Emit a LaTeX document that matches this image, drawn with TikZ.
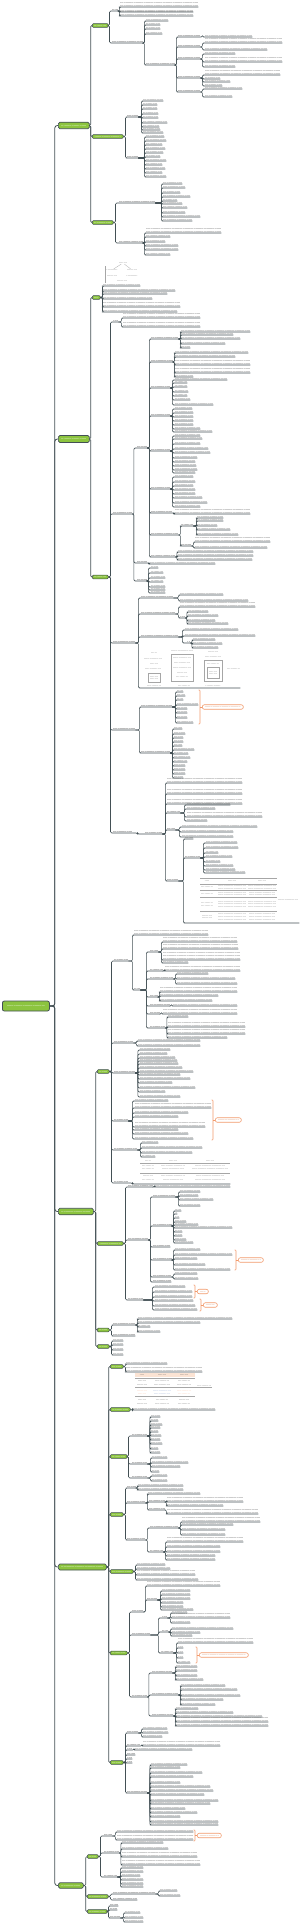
\documentclass[tikz,border=0pt]{standalone}
\usetikzlibrary{positioning}
\definecolor{linec}{HTML}{435055}
\definecolor{topicg}{HTML}{8CC43F}
\definecolor{callo}{HTML}{F29A6C}
\definecolor{paleor}{HTML}{FBE3D3}
\definecolor{cellbl}{HTML}{4A6FB5}
% dotted rows stand in for the labels, which are too small to read
\newcommand\dl[2]{\hbox to \dimexpr#2pt-#1pt\relax{\vrule height1.9pt width0pt\xleaders\hbox to 1.1pt{\hss\textbullet\hss}\hfil}}
\newcommand\ph[3]{\vbox{\offinterlineskip\dl{#1}{#2}\ifnum#3>1 \vskip1pt\dl{#1}{#2}\fi\ifnum#3>2 \vskip1pt\dl{#1}{#2}\fi}}
\newcommand\arm[3][2]{\draw[link] (#2) -- ++(#1,0) |- (#3.south west) -- (#3.south east);}
\newcommand\tarm[3][1]{\draw[link] (#2) -- ++(#1,0) |- (#3.west);}
\begin{document}
\begin{tikzpicture}[x=1pt, y=-1pt,
  link/.style={draw=linec, line width=.6pt, rounded corners=1.2pt},
  trunk/.style={draw=linec, line width=.8pt, rounded corners=2.5pt},
  leaf/.style={anchor=south west, inner xsep=0pt, inner ysep=.4pt, text=black!68, font=\fontsize{2.6}{3}\selectfont},
  lbl/.style={leaf, text=black!90},
  topic/.style={draw=linec, fill=topicg, rounded corners=1pt, line width=.5pt, inner sep=0pt, anchor=west, text=white, font=\fontsize{2.6}{3}\selectfont},
  callout/.style={draw=callo, fill=white, rounded corners=2pt, line width=.6pt, inner sep=0pt, anchor=west, minimum height=4.5, text=callo!85!black, font=\fontsize{2.4}{2.8}\selectfont},
  bracket/.style={draw=callo, line width=.6pt, rounded corners=.8pt},
  grid/.style={draw=black!35, line width=.3pt},
  cell/.style={inner sep=0pt, text=black!60, font=\fontsize{2.2}{2.6}\selectfont}
]
\useasboundingbox (0,0) rectangle (300,1924);

% root and main branches
\node[topic, rounded corners=2pt, line width=.8pt, minimum width=47, minimum height=10] (root) at (2,1006) {\ph{0}{38}{1}};
\node[topic, rounded corners=1.5pt, line width=.7pt, minimum width=31, minimum height=6.5] (t1) at (58,125.5) {\ph{0}{25}{1}};
\node[topic, rounded corners=1.5pt, line width=.7pt, minimum width=31, minimum height=7] (t2) at (58,439) {\ph{0}{25}{1}};
\node[topic, rounded corners=1.5pt, line width=.7pt, minimum width=35, minimum height=6.5] (t3) at (58,1211.5) {\ph{0}{29}{1}};
\node[topic, rounded corners=1.5pt, line width=.7pt, minimum width=48, minimum height=6] (t4) at (58,1567) {\ph{0}{42}{1}};
\node[topic, rounded corners=1.5pt, line width=.7pt, minimum width=25, minimum height=5.5] (t5) at (58,1885.5) {\ph{0}{19}{1}};
\foreach \tn in {t1,t2,t3,t4,t5} {\draw[trunk] (root.east) -- ++(5,0) |- (\tn.west);}

% ---------- branch 1 ----------
\node[topic, minimum width=16, minimum height=3.6] (s1a) at (92,25.5) {\ph{0}{12}{1}};
\node[topic, minimum width=31, minimum height=3.6] (s1b) at (92,136.5) {\ph{0}{26}{1}};
\node[topic, minimum width=21, minimum height=3.6] (s1c) at (92,222.5) {\ph{0}{17}{1}};
\foreach \tn in {s1a,s1b,s1c} {\tarm{t1.east}{\tn}}

\node[lbl] (a11) at (112,11) {\ph{112}{118}{1}};
\node[lbl] (a43) at (112,43) {\ph{112}{143}{1}};
\arm[1]{s1a.east}{a11} \arm[1]{s1a.east}{a43}
\foreach \yy/\xe/\nl in {7/198/2,12/193/1,16/193/2}{
  \node[leaf] (a11-\yy) at (120,\yy) {\ph{120}{\xe}{\nl}};
  \arm[1]{a11.south east}{a11-\yy}}
\foreach \yy/\xe in {21/168,25/160,29/160,34/162}{
  \node[leaf] (a43-\yy) at (146,\yy) {\ph{146}{\xe}{1}};
  \arm[1]{a43.south east}{a43-\yy}}
\node[lbl] (a65) at (146,65) {\ph{146}{175}{1}};
\arm[1]{a43.south east}{a65}
\foreach \yy in {37,47,59,78,92}{
  \node[lbl] (a65-\yy) at (178,\yy) {\ph{178}{200}{1}};
  \arm[1]{a65.south east}{a65-\yy}}
\foreach \pp/\yy/\xe/\nl in {37/37/252/1,47/43/282/2,47/50/267/1,59/54/235/1,59/62/282/2,59/67/235/1,
    78/75/280/2,78/79/220/1,78/82/230/1,78/86/222/1,92/89/242/1,92/97/232/1}{
  \node[leaf] (b\yy) at (205,\yy) {\ph{205}{\xe}{\nl}};
  \arm{a65-\pp.south east}{b\yy}}

\node[lbl] (c117) at (127,117) {\ph{127}{138}{1}};
\node[lbl] (c158) at (127,158) {\ph{127}{138}{1}};
\arm{s1b.east}{c117} \arm{s1b.east}{c158}
\foreach \yy/\xe in {101/163,105/157,109/157,114/158,118/158,123/167,127/159,130/160,133/163}{
  \node[leaf] (c117-\yy) at (143,\yy) {\ph{143}{\xe}{1}};
  \arm[3]{c117.south east}{c117-\yy}}
\foreach \yy/\xe in {137/164,141/166,145/162,149/165,153/163,157/160,161/166,165/162,169/165,173/162,177/166}{
  \node[leaf] (c158-\yy) at (146,\yy) {\ph{146}{\xe}{1}};
  \arm[6]{c158.south east}{c158-\yy}}

\node[lbl] (c203) at (119,203) {\ph{119}{155}{1}};
\node[lbl] (c243) at (119,243) {\ph{119}{143}{1}};
\arm{s1c.east}{c203} \arm{s1c.east}{c243}
\foreach \yy/\xe in {184/182,188/185,193/180,197/190,201/177,204/182,208/187,213/185,217/200,221/192}{
  \node[leaf] (c203-\yy) at (163,\yy) {\ph{163}{\xe}{1}};
  \arm[6]{c203.south east}{c203-\yy}}
\foreach \yy/\xe/\nl in {233/221/2,237/170/1,242/165/1,246/178/1,250/178/1,255/170/1}{
  \node[leaf] (c243-\yy) at (146,\yy) {\ph{146}{\xe}{\nl}};
  \arm[1]{c243.south east}{c243-\yy}}

% ---------- branch 2 ----------
\node[topic, minimum width=8, minimum height=3.6] (s2a) at (92,297.5) {\ph{0}{5}{1}};
\node[topic, minimum width=16, minimum height=3.6] (s2b) at (92,577) {\ph{0}{12}{1}};
\tarm{t2.east}{s2a} \tarm{t2.east}{s2b}
\foreach \yy/\xe/\nl in {286/140/1,291/175/1,294/167/1,299/152/1,307/180/2,312/177/1}{
  \node[leaf] (d\yy) at (103,\yy) {\ph{103}{\xe}{\nl}};
  \arm{s2a.east}{d\yy}}
% little tree picture over the first leaf
\draw[grid] (105.5,266) -- (105.5,283);
\node[cell] (tr0) at (123,263) {\ph{0}{8}{1}};
\node[cell] (tr1) at (112,270) {\ph{0}{11}{1}};
\node[cell] (tr2) at (132,270) {\ph{0}{10}{1}};
\node[cell] (tr3) at (112,275.5) {\ph{0}{10}{1}};
\node[cell] (tr4) at (132,275.5) {\ph{0}{11}{1}};
\node[cell] (tr5) at (122,280.5) {\ph{0}{10}{1}};
\draw[grid] (tr0) -- (tr1); \draw[grid] (tr0) -- (tr2);

\node[lbl] (e322) at (113,322) {\ph{113}{118}{1}};
\node[lbl] (e514) at (113,514) {\ph{113}{132}{1}};
\node[lbl] (e643) at (113,643) {\ph{113}{135}{1}};
\node[lbl] (e730) at (113,730) {\ph{113}{135}{1}};
\node[lbl] (e833) at (113,833) {\ph{113}{132}{1}};
\foreach \tn in {e322,e514,e643,e730,e833} {\arm{s2b.east}{\tn}}
\foreach \yy in {318,327}{
  \node[leaf] (e322-\yy) at (123,\yy) {\ph{123}{200}{2}};
  \arm[3]{e322.south east}{e322-\yy}}

\node[lbl] (f448) at (137,448) {\ph{137}{147}{1}};
\node[lbl] (f563) at (137,563) {\ph{137}{147}{1}};
\node[lbl] (f581) at (137,581) {\ph{137}{147}{1}};
\foreach \tn in {f448,f563,f581} {\arm[1.5]{e514.south east}{\tn}}
\foreach \yy/\xe in {339/178,362/173,388/170,416/170,451/170,489/170,513/172,535/178,557/175}{
  \node[lbl] (g\yy) at (151,\yy) {\ph{151}{\xe}{1}};
  \arm{f448.south east}{g\yy}}
\foreach \pp/\lx/\dd/\yy/\xe/\nl in {339/181/2/332/250/1,339/181/2/335/233/1,339/181/2/339/240/1,339/181/2/344/225/1,339/181/2/348/190/1,
    362/175/1/353/248/1,362/175/1/357/235/1,362/175/1/365/250/2,362/175/1/373/250/2,362/175/1/377/193/1,
    388/175/2/380/227/1,388/175/2/383/187/1,388/175/2/387/187/1,388/175/2/392/188/1,388/175/2/396/187/1,388/175/2/400/190/1,388/175/2/405/213/1,
    416/175/2/409/192/1,416/175/2/413/193/1,416/175/2/417/193/1,416/175/2/421/193/1,416/175/2/425/193/1,416/175/2/429/200/1,416/175/2/432/212/1,
    451/175/2/436/200/1,451/175/2/439/202/1,451/175/2/444/200/1,451/175/2/449/208/1,451/175/2/453/210/1,451/175/2/458/197/1,451/175/2/462/195/1,451/175/2/466/196/1,451/175/2/470/197/1,451/175/2/473/195/1,
    489/175/2/477/193/1,489/175/2/482/195/1,489/175/2/486/193/1,489/175/2/490/195/1,489/175/2/494/195/1,489/175/2/498/202/1,489/175/2/503/207/1,489/175/2/507/200/1,
    513/175/1.5/514/250/2,557/178/1.5/552/253/1,557/178/1.5/556/253/1,557/178/1.5/560/252/1}{
  \node[leaf] (h\yy) at (\lx,\yy) {\ph{\lx}{\xe}{\nl}};
  \arm[\dd]{g\pp.south east}{h\yy}}
\node[lbl] (k526) at (181,526) {\ph{181}{193}{1}};
\node[lbl] (k546) at (181,546) {\ph{181}{191}{1}};
\arm{g535.south east}{k526} \arm{g535.south east}{k546}
\foreach \yy/\xe in {518/223,521/223,526/217,530/230,535/238}{
  \node[leaf] (m\yy) at (197,\yy) {\ph{197}{\xe}{1}};
  \arm[3]{k526.south east}{m\yy}}
\foreach \yy/\xe/\nl in {542/270/2,548/267/1}{
  \node[leaf] (m\yy) at (195,\yy) {\ph{195}{\xe}{\nl}};
  \arm{k546.south east}{m\yy}}
\node[leaf] (f563-564) at (150,564) {\ph{150}{215}{1}};
\arm[1.5]{f563.south east}{f563-564}
\foreach \yy/\xe in {568/158,573/163,578/165,582/163,587/165,590/165,593/165}{
  \node[leaf] (f581-\yy) at (151,\yy) {\ph{151}{\xe}{1}};
  \arm[1]{f581.south east}{f581-\yy}}

\node[lbl] (n598) at (141,598) {\ph{141}{173}{1}};
\node[lbl] (n614) at (141,614) {\ph{141}{175}{1}};
\node[lbl] (n637) at (141,637) {\ph{141}{178}{1}};
\node[leaf, minimum width=99, minimum height=37] (img2) at (141,688) {};
\foreach \tn in {n598,n614,n637,img2} {\arm[3]{e643.south east}{\tn}}
\foreach \yy/\xe in {595/223,601/248}{
  \node[leaf] (n598-\yy) at (180,\yy) {\ph{180}{\xe}{1}};
  \arm[5]{n598.south east}{n598-\yy}}
\node[leaf] (n614-607) at (180,607) {\ph{180}{255}{2}};
\node[lbl] (p618) at (180,618) {\ph{180}{185}{1}};
\arm[3]{n614.south east}{n614-607} \arm[3]{n614.south east}{p618}
\foreach \yy/\xe in {612/208,616/218,621/215,624/228}{
  \node[leaf] (p618-\yy) at (188,\yy) {\ph{188}{\xe}{1}};
  \arm[1.5]{p618.south east}{p618-\yy}}
\node[leaf] (n637-630) at (185,630) {\ph{185}{238}{1}};
\node[leaf] (n637-636) at (185,636) {\ph{185}{255}{1}};
\node[lbl] (p643) at (187,643) {\ph{187}{190}{1}};
\foreach \tn in {n637-630,n637-636,p643} {\arm[4]{n637.south east}{\tn}}
\foreach \yy/\xe in {640/215,644/222,648/218}{
  \node[leaf] (p643-\yy) at (193,\yy) {\ph{193}{\xe}{1}};
  \arm[1.5]{p643.south east}{p643-\yy}}
% three small pictures standing on the line of img2
\node[cell] (ia0) at (154,653) {\ph{0}{6}{1}};
\node[cell] (ia1) at (153,659) {\ph{0}{18}{1}};
\node[cell] (ia2) at (154,664) {\ph{0}{8}{1}};
\node[cell] (ia3) at (153,669) {\ph{0}{16}{1}};
\draw[grid] (148,673) rectangle (160,682);
\node[cell] (ia4) at (154,677.5) {\ph{0}{8}{2}};
\node[cell] (ia5) at (154,685.5) {\ph{0}{14}{1}};
\node[cell] (ib0) at (182,651) {\ph{0}{22}{1}};
\draw[grid] (171,654) rectangle (193,681);
\foreach \yy/\ww in {658/18,663/16,668/18,673/10,677/12} {\node[cell] (ib\yy) at (182,\yy) {\ph{0}{\ww}{1}};}
\node[cell] (ib9) at (184,685.5) {\ph{0}{12}{1}};
\node[cell] (ic0) at (213,652) {\ph{0}{10}{1}};
\node[cell] (ic1) at (213,656.5) {\ph{0}{16}{1}};
\draw[grid] (204,660) rectangle (222,681);
\draw[grid] (207,667) rectangle (219,678);
\node[cell] (ic2) at (213,663.5) {\ph{0}{12}{1}};
\node[cell] (ic3) at (213,672.5) {\ph{0}{8}{2}};
\node[cell] (ic9) at (213,685.5) {\ph{0}{15}{1}};
\node[cell] (id0) at (233.5,669) {\ph{0}{13}{1}};

\node[lbl] (q707) at (141,707) {\ph{141}{172}{1}};
\node[lbl] (q753) at (141,753) {\ph{141}{170}{1}};
\arm[4]{e730.south east}{q707} \arm[4]{e730.south east}{q753}
\foreach \yy/\xe in {692/183,696/185,700/183,705/198,709/187,713/187,718/187,723/193}{
  \node[leaf] (q707-\yy) at (177,\yy) {\ph{177}{\xe}{1}};
  \arm[3]{q707.south east}{q707-\yy}}
\foreach \yy/\xe in {729/182,734/185,738/183,742/183,746/182,750/194,754/188,758/190,762/187,766/185,770/185,774/185,778/183}{
  \node[leaf] (q753-\yy) at (174,\yy) {\ph{174}{\xe}{1}};
  \arm{q753.south east}{q753-\yy}}

\node[lbl] (r834) at (145,834) {\ph{145}{162}{1}};
\arm[5]{e833.south east}{r834}
\foreach \yy in {783,794,804}{
  \node[leaf] (r834-\yy) at (167,\yy) {\ph{167}{242}{2}};
  \arm[3]{r834.south east}{r834-\yy}}
\node[lbl] (s813) at (167,813) {\ph{167}{180}{1}};
\node[lbl] (s830) at (167,830) {\ph{167}{175}{1}};
\node[lbl] (s881) at (167,881) {\ph{167}{178}{1}};
\foreach \tn in {s813,s830,s881} {\arm[3]{r834.south east}{\tn}}
\foreach \yy/\xe/\nl in {805/230/1,809/215/1,817/262/2,821/207/1}{
  \node[leaf] (s813-\yy) at (187,\yy) {\ph{187}{\xe}{\nl}};
  \arm[4]{s813.south east}{s813-\yy}}
\foreach \yy/\xe in {827/257,832/233,837/233}{
  \node[leaf] (s830-\yy) at (182,\yy) {\ph{182}{\xe}{1}};
  \arm[4]{s830.south east}{s830-\yy}}
\node[leaf] (u839) at (185,839) {\ph{185}{193}{1}};
\node[lbl] (u858) at (185,858) {\ph{185}{200}{1}};
\node[leaf, minimum width=114, minimum height=44] (tab1) at (185,923) {};
\foreach \tn in {u839,u858,tab1} {\arm[5]{s881.south east}{\tn}}
\foreach \yy/\xe in {843/237,848/238,853/218,857/232,862/220,866/233,870/235,873/245}{
  \node[leaf] (u858-\yy) at (206,\yy) {\ph{206}{\xe}{1}};
  \arm[3]{u858.south east}{u858-\yy}}
% table standing on tab1
\foreach \yy in {878,884,890,897,911} {\draw[grid] (200,\yy) -- (277,\yy);}
\foreach \nm/\cx/\cy/\ww/\nl in {h1/207/881/5/1,h2/232/881/8/1,h3/262/881/8/1,
    a1/207/887/12/1,a2/232/887/28/2,a3/262/887/28/2,
    b1/207/893.5/12/1,b2/232/893.5/28/2,b3/262/893.5/26/2,
    c1/207/904/12/2,c2/232/904/28/3,c3/262/904/28/3,
    d1/207/916.5/10/2,d2/232/916.5/28/3,d3/262/916.5/26/3,e4/288/900/20/1}
  {\node[cell] (ta\nm) at (\cx,\cy) {\ph{0}{\ww}{\nl}};}

% ---------- branch 3 ----------
\node[topic, minimum width=12, minimum height=3.6] (s3a) at (97,1071.5) {\ph{0}{8}{1}};
\node[topic, minimum width=26, minimum height=3.6] (s3b) at (97,1243.5) {\ph{0}{21}{1}};
\node[topic, minimum width=12, minimum height=3.6] (s3c) at (97,1330) {\ph{0}{8}{1}};
\node[topic, minimum width=12, minimum height=3.6] (s3d) at (97,1346.5) {\ph{0}{8}{1}};
\foreach \tn in {s3a,s3b,s3c,s3d} {\tarm[2]{t3.east}{\tn}}

\node[lbl] (v961) at (114,961) {\ph{114}{128}{1}};
\node[lbl] (v1043) at (114,1043) {\ph{114}{133}{1}};
\node[lbl] (v1073) at (114,1073) {\ph{114}{135}{1}};
\node[lbl] (v1121) at (114,1121) {\ph{114}{128}{1}};
\node[lbl] (v1150) at (114,1150) {\ph{114}{137}{1}};
\node[lbl] (v1183) at (114,1183) {\ph{114}{128}{1}};
\foreach \tn in {v961,v1043,v1073,v1121,v1150,v1183} {\arm{s3a.east}{\tn}}
\node[leaf] (v961-935) at (134,935) {\ph{134}{208}{2}};
\node[lbl] (w990) at (134,990) {\ph{134}{140}{1}};
\arm[4]{v961.south east}{v961-935} \arm[4]{v961.south east}{w990}
\foreach \yy/\xe in {952/158,971/163,979/173,997/158,1006/170,1014/160,1028/165}{
  \node[lbl] (x\yy) at (150,\yy) {\ph{150}{\xe}{1}};
  \arm[6]{w990.south east}{x\yy}}
\foreach \pp/\lx/\dd/\yy/\xe/\nl in {952/163/3/942/237/2,952/163/3/949/238/2,952/163/3/960/240/3,952/163/3/963/188/1,
    971/165/1/971/240/2,979/177/2/974/208/1,979/177/2/979/235/1,979/177/2/984/237/1,
    997/160/1/992/237/2,997/160/1/996/218/1,997/160/1/1001/212/1,1006/173/1/1006/237/1,1014/163/1/1014/237/2,
    1028/168/1.5/1017/188/1,1028/168/1.5/1027/245/2,1028/168/1.5/1034/245/2,1028/168/1.5/1038/227/1}{
  \node[leaf] (y\yy) at (\lx,\yy) {\ph{\lx}{\xe}{\nl}};
  \arm[\dd]{x\pp.south east}{y\yy}}
\foreach \yy in {1041,1046}{
  \node[leaf] (v1043-\yy) at (138,\yy) {\ph{138}{200}{1}};
  \arm[3]{v1043.south east}{v1043-\yy}}
\foreach \yy/\xe in {1050/170,1054/167,1058/175,1061/177,1064/178,1068/182,1072/193,1075/180,1079/190,1083/172,1088/195,1092/165,1097/180}{
  \node[leaf] (v1073-\yy) at (140,\yy) {\ph{140}{\xe}{1}};
  \arm[2.5]{v1073.south east}{v1073-\yy}}
\foreach \yy/\xe/\nl in {1101/168/1,1108/211/2,1113/188/1,1117/178/1,1127/205/2,1130/178/1,1134/188/1,1139/193/1}{
  \node[leaf] (v1121-\yy) at (135,\yy) {\ph{135}{\xe}{\nl}};
  \arm[4]{v1121.south east}{v1121-\yy}}
\foreach \yy/\xe in {1143/158,1148/202,1153/192,1157/155}{
  \node[leaf] (v1150-\yy) at (142,\yy) {\ph{142}{\xe}{1}};
  \arm[3]{v1150.south east}{v1150-\yy}}
\node[leaf, minimum width=93, minimum height=24] (tab2) at (137,1184) {};
\arm[4]{v1183.south east}{tab2}
% table standing on tab2
\foreach \yy in {1163,1173.5} {\draw[grid] (140,\yy) -- (230,\yy);}
\foreach \nm/\cx/\cy/\ww in {h1/148/1161/6,h2/173/1161/8,h3/210/1161/8,
    a1/148/1165.5/12,a2/173/1165.5/24,a3/210/1165.5/30,
    b1/148/1169/12,b2/173/1169/22,b3/210/1169/36,
    c1/148/1176/10,c2/173/1176/24,c3/210/1176/28,
    d1/148/1179.5/12,d2/173/1179.5/20,d3/210/1179.5/30}
  {\node[cell] (tb\nm) at (\cx,\cy) {\ph{0}{\ww}{1}};}

\node[lbl] (z1187) at (128,1187) {\ph{128}{153}{1}};
\node[lbl] (z1240) at (128,1240) {\ph{128}{148}{1}};
\node[lbl] (z1300) at (128,1300) {\ph{128}{143}{1}};
\foreach \tn in {z1187,z1240,z1300} {\arm{s3b.east}{\tn}}
\node[leaf] (z1187-1) at (155,1187) {\ph{155}{230}{1}};
\arm[1]{z1187.south east}{z1187-1}
\foreach \yy/\xe in {1197/175,1226/172,1247/170,1260/172,1277/171,1282/171}{
  \node[lbl] (za\yy) at (153,\yy) {\ph{153}{\xe}{1}};
  \arm{z1240.south east}{za\yy}}
\foreach \pp/\lx/\dd/\yy/\xe in {1197/180/3/1192/200,1197/180/3/1196/198,1197/180/3/1200/213,1197/180/3/1206/200,
    1226/175/1/1211/181,1226/175/1/1214/177,1226/175/1/1218/179,1226/175/1/1222/186,1226/175/1/1225/198,
    1226/175/1/1228/232,1226/175/1/1232/182,1226/175/1/1236/182,1226/175/1/1240/186,1226/175/1/1243/193,
    1260/175/1/1250/200,1260/175/1/1255/232,1260/175/1/1259/197,1260/175/1/1265/205,1260/175/1/1270/230,
    1277/175/2/1274/197,1277/175/2/1279/198}{
  \node[leaf] (zb\yy) at (\lx,\yy) {\ph{\lx}{\xe}{1}};
  \arm[\dd]{za\pp.south east}{zb\yy}}
\foreach \yy/\xe in {1287/185,1292/192,1297/192,1301/193,1306/195,1310/197}{
  \node[leaf] (z1300-\yy) at (155,\yy) {\ph{155}{\xe}{1}};
  \arm[9]{z1300.south east}{z1300-\yy}}

\node[lbl] (zc1325) at (113,1325) {\ph{113}{135}{1}};
\node[lbl] (zc1336) at (113,1336) {\ph{113}{135}{1}};
\arm{s3c.east}{zc1325} \arm{s3c.east}{zc1336}
\foreach \yy/\xe in {1319/232,1323/200,1327/150,1332/160}{
  \node[leaf] (zc-\yy) at (138,\yy) {\ph{138}{\xe}{1}};
  \arm{zc1325.south east}{zc-\yy}}
\foreach \yy in {1341,1345,1350,1355}{
  \node[leaf] (s3d-\yy) at (113,\yy) {\ph{113}{123}{1}};
  \arm{s3d.east}{s3d-\yy}}

% ---------- branch 4 ----------
\node[topic, minimum width=13, minimum height=3.6] (s4a) at (110,1366.5) {\ph{0}{9}{1}};
\node[topic, minimum width=20, minimum height=3.6] (s4b) at (110,1409.5) {\ph{0}{16}{1}};
\node[topic, minimum width=17, minimum height=3.6] (s4c) at (110,1456.5) {\ph{0}{13}{1}};
\node[topic, minimum width=13, minimum height=3.6] (s4d) at (110,1514.5) {\ph{0}{9}{1}};
\node[topic, minimum width=23, minimum height=3.6] (s4e) at (110,1571.5) {\ph{0}{19}{1}};
\node[topic, minimum width=17, minimum height=3.6] (s4f) at (110,1653) {\ph{0}{13}{1}};
\node[topic, minimum width=13, minimum height=3.6] (s4g) at (110,1762.5) {\ph{0}{9}{1}};
\foreach \tn in {s4a,s4b,s4c,s4d,s4e,s4f,s4g} {\tarm[2]{t4.east}{\tn}}

\foreach \yy/\xe/\nl in {1364/167/1,1372/202/2}{
  \node[leaf] (s4a-\yy) at (126,\yy) {\ph{126}{\xe}{\nl}};
  \arm{s4a.east}{s4a-\yy}}
\node[leaf] (s4b-1) at (133,1410) {\ph{133}{215}{1}};
\arm{s4b.east}{s4b-1}
% table picture over the leaf of s4b
\fill[paleor] (135,1372.5) rectangle (195,1377);
\foreach \yy/\xe in {1378/195,1387.5/212,1396.5/195} {\draw[grid] (135,\yy) -- (\xe,\yy);}
\foreach \nm/\cx/\cy/\ww/\cc in {h1/142/1374.8/5/black,h2/162/1374.8/8/black,h3/184/1374.8/8/black,
    a1/142/1380.8/8/black,a2/162/1380.8/14/black,a3/184/1380.8/12/black,
    b1/142/1384.6/10/black,b2/162/1384.6/16/black,b3/184/1384.6/14/black,
    c1/142/1390.5/10/callo,c2/162/1390.5/18/cellbl,c3/184/1390.5/14/callo,
    d1/142/1394/8/callo,d2/162/1394/16/cellbl,d3/184/1394/12/callo,
    e1/142/1399.5/8/black,e2/162/1399.5/12/black,e3/184/1399.5/10/black,
    f1/142/1403.5/10/black,f2/162/1403.5/14/black,f3/184/1403.5/12/black}
  {\node[cell, text=\cc!70] (tc\nm) at (\cx,\cy) {\ph{0}{\ww}{1}};}
\node[cell] (tcside) at (204,1385.5) {\ph{0}{14}{1}};

\node[lbl] (aa1436) at (132,1436) {\ph{132}{147}{1}};
\node[lbl] (aa1464) at (132,1464) {\ph{132}{147}{1}};
\node[lbl] (aa1478) at (132,1478) {\ph{132}{147}{1}};
\foreach \tn in {aa1436,aa1464,aa1478} {\arm[1]{s4c.east}{\tn}}
\foreach \yy/\xe in {1417/160,1421/158,1425/162,1428/160,1432/158,1436/161,1440/160,1444/162,1449/158,1453/160}{
  \node[leaf] (aa-\yy) at (151,\yy) {\ph{151}{\xe}{1}};
  \arm[2.5]{aa1436.south east}{aa-\yy}}
\foreach \yy/\xe in {1458/167,1463/188,1467/180,1472/159}{
  \node[leaf] (aa-\yy) at (152,\yy) {\ph{152}{\xe}{1}};
  \arm[3]{aa1464.south east}{aa-\yy}}
\foreach \yy in {1476,1481}{
  \node[leaf] (aa-\yy) at (152,\yy) {\ph{152}{167}{1}};
  \arm[3]{aa1478.south east}{aa-\yy}}

\node[lbl] (bb1488) at (127,1488) {\ph{127}{136}{1}};
\node[lbl] (bb1503) at (127,1503) {\ph{127}{145}{1}};
\node[lbl] (bb1540) at (127,1540) {\ph{127}{145}{1}};
\foreach \tn in {bb1488,bb1503,bb1540} {\arm{s4d.east}{\tn}}
\foreach \yy in {1486,1490}{
  \node[leaf] (bb-\yy) at (138,\yy) {\ph{138}{183}{1}};
  \arm[1]{bb1488.south east}{bb-\yy}}
\node[leaf] (bb-1494) at (148,1494) {\ph{148}{200}{1}};
\node[lbl] (cc1502) at (149,1502) {\ph{149}{165}{1}};
\node[lbl] (cc1510) at (149,1510) {\ph{149}{165}{1}};
\foreach \tn in {bb-1494,cc1502,cc1510} {\arm{bb1503.south east}{\tn}}
\node[leaf] (dd1502) at (167,1502) {\ph{167}{243}{2}};
\node[leaf] (dd1506) at (167,1506) {\ph{167}{223}{1}};
\node[leaf] (dd1514) at (167,1514) {\ph{167}{258}{2}};
\arm[1]{cc1502.south east}{dd1502} \arm[1]{cc1502.south east}{dd1506} \arm[1]{cc1510.south east}{dd1514}
\node[lbl] (cc1528) at (150,1528) {\ph{150}{178}{1}};
\node[lbl] (cc1552) at (150,1552) {\ph{150}{163}{1}};
\arm{bb1540.south east}{cc1528} \arm{bb1540.south east}{cc1552}
\foreach \yy/\xe/\nl in {1522/260/2,1525/233/1,1530/225/1,1535/225/1}{
  \node[leaf] (dd\yy) at (182,\yy) {\ph{182}{\xe}{\nl}};
  \arm{cc1528.south east}{dd\yy}}
\foreach \yy/\xe/\nl in {1542/243/2,1547/220/1,1552/220/1,1556/215/1,1560/215/1}{
  \node[leaf] (dd\yy) at (167,\yy) {\ph{167}{\xe}{\nl}};
  \arm{cc1552.south east}{dd\yy}}
\foreach \yy/\xe/\nl in {1565/165/1,1569/170/1,1575/195/2,1580/198/1}{
  \node[leaf] (s4e-\yy) at (137,\yy) {\ph{137}{\xe}{\nl}};
  \arm{s4e.east}{s4e-\yy}}

\node[lbl] (ee1612) at (132,1612) {\ph{132}{143}{1}};
\node[lbl] (ee1635) at (132,1635) {\ph{132}{150}{1}};
\node[lbl] (ee1697) at (132,1697) {\ph{132}{147}{1}};
\foreach \tn in {ee1612,ee1635,ee1697} {\arm{s4f.east}{\tn}}
\node[leaf] (ee-1586) at (147,1586) {\ph{147}{220}{2}};
\node[lbl] (ff1600) at (147,1600) {\ph{147}{157}{1}};
\arm{ee1612.south east}{ee-1586} \arm{ee1612.south east}{ff1600}
\foreach \yy/\xe in {1591/190,1595/190,1599/190,1603/183,1607/183,1610/193}{
  \node[leaf] (gg\yy) at (162,\yy) {\ph{162}{\xe}{1}};
  \arm[3]{ff1600.south east}{gg\yy}}
\node[lbl] (ff1618) at (162,1618) {\ph{162}{167}{1}};
\node[lbl] (ff1632) at (162,1632) {\ph{162}{168}{1}};
\node[lbl] (ff1653) at (161,1653) {\ph{161}{173}{1}};
\foreach \tn in {ff1618,ff1632,ff1653} {\arm[8]{ee1635.south east}{\tn}}
\node[lbl] (ff1673) at (152,1673) {\ph{152}{172}{1}};
\node[lbl] (ff1695) at (152,1695) {\ph{152}{178}{1}};
\node[lbl] (ff1716) at (152,1716) {\ph{152}{173}{1}};
\foreach \tn in {ff1673,ff1695,ff1716} {\arm[1.5]{ee1697.south east}{\tn}}
\foreach \pp/\lx/\dd/\yy/\xe/\nl in {1618/172/3/1613/187/1,1618/172/3/1618/230/2,1618/172/3/1623/190/1,
    1632/172/2/1629/233/1,1632/172/2/1633/200/1,1632/172/2/1636/192/1,
    1653/178/3/1643/253/2,1653/178/3/1648/183/1,1653/178/3/1653/183/1,1653/178/3/1658/183/1,1653/178/3/1663/190/1,
    1673/176/3/1667/197/1,1673/176/3/1671/197/1,1673/176/3/1676/197/1,1673/176/3/1680/203/1,
    1695/181/2/1686/225/1,1695/181/2/1690/237/1,1695/181/2/1696/240/1,1695/181/2/1700/223/1,1695/181/2/1705/215/1,
    1716/176/2/1709/198/1,1716/176/2/1713/233/1,1716/176/2/1717/262/1,1716/176/2/1722/268/2,1716/176/2/1726/268/1}{
  \node[leaf] (gg\yy) at (\lx,\yy) {\ph{\lx}{\xe}{\nl}};
  \arm[\dd]{ff\pp.south east}{gg\yy}}

\foreach \yy/\xe in {1733/138,1746/140,1750/132,1755/135,1759/132,1763/132,1793/147}{
  \node[lbl] (hh\yy) at (127,\yy) {\ph{127}{\xe}{1}};
  \arm{s4g.east}{hh\yy}}
\foreach \yy/\xe in {1729/167,1733/168,1737/162}{
  \node[leaf] (hh-\yy) at (143,\yy) {\ph{143}{\xe}{1}};
  \arm[3]{hh1733.south east}{hh-\yy}}
\node[leaf] (hh-1746) at (143,1746) {\ph{143}{220}{2}};
\node[leaf] (hh-1750) at (135,1750) {\ph{135}{192}{1}};
\arm[1.5]{hh1746.south east}{hh-1746} \arm[1.5]{hh1750.south east}{hh-1750}
\foreach \yy/\xe in {1765/187,1768/180,1773/202,1777/193,1783/180,1787/210,1791/213,1795/204,1801/218,1804/210,1809/185,1813/197,1817/180,1822/218,1825/218}{
  \node[leaf] (hh-\yy) at (151,\yy) {\ph{151}{\xe}{1}};
  \arm[2.5]{hh1793.south east}{hh-\yy}}

% ---------- branch 5 ----------
\node[topic, minimum width=11, minimum height=3.6] (s5a) at (87,1856.5) {\ph{0}{7}{1}};
\node[topic, minimum width=21, minimum height=3.6] (s5b) at (87,1896.5) {\ph{0}{17}{1}};
\node[topic, minimum width=20, minimum height=3.6] (s5c) at (87,1911.5) {\ph{0}{16}{1}};
\foreach \tn in {s5a,s5b,s5c} {\tarm[2]{t5.east}{\tn}}
\node[lbl] (jj1836) at (104,1836) {\ph{104}{112}{1}};
\node[lbl] (jj1853) at (104,1853) {\ph{104}{119}{1}};
\node[lbl] (jj1877) at (104,1877) {\ph{104}{117}{1}};
\foreach \tn in {jj1836,jj1853,jj1877} {\arm{s5a.east}{\tn}}
\foreach \yy/\xe/\nl in {1832/193/1,1840/193/2}{
  \node[leaf] (jj-\yy) at (117,\yy) {\ph{117}{\xe}{\nl}};
  \arm[3]{jj1836.south east}{jj-\yy}}
\foreach \yy/\xe/\nl in {1843/163/1,1849/168/1,1857/197/2,1865/200/2}{
  \node[leaf] (jj-\yy) at (122,\yy) {\ph{122}{\xe}{\nl}};
  \arm[1.5]{jj1853.south east}{jj-\yy}}
\foreach \yy/\xe in {1868/143,1872/143,1876/140,1880/143,1884/143,1887/143}{
  \node[leaf] (jj-\yy) at (122,\yy) {\ph{122}{\xe}{1}};
  \arm[3]{jj1877.south east}{jj-\yy}}
\node[lbl] (kk1894) at (113,1894) {\ph{113}{155}{1}};
\node[lbl] (kk1900) at (113,1900) {\ph{113}{137}{1}};
\arm{s5b.east}{kk1894} \arm{s5b.east}{kk1900}
\foreach \yy/\xe in {1891/177,1896/180}{
  \node[leaf] (kk-\yy) at (160,\yy) {\ph{160}{\xe}{1}};
  \arm[3]{kk1894.south east}{kk-\yy}}
\foreach \yy/\xe in {1906/118,1910/117,1918/120}{
  \node[lbl] (ll\yy) at (110,\yy) {\ph{110}{\xe}{1}};
  \arm[1]{s5c.east}{ll\yy}}
\foreach \yy/\xe in {1913/140,1918/143,1922/143}{
  \node[leaf] (ll-\yy) at (125,\yy) {\ph{125}{\xe}{1}};
  \arm[3]{ll1918.south east}{ll-\yy}}

% orange brackets with their notes
\foreach \i/\x/\ya/\yb/\w in {1/200/690/724/41,2/213/1100/1140/26,3/236/1250/1270/25,4/195/1285/1298/11,5/201/1299/1311/14,6/197/1647/1663/49,7/195/1830/1841/24}{
  \draw[bracket] (\x-1.5,\ya) -- (\x,\ya) -- (\x,\yb) -- (\x-1.5,\yb);
  \coordinate (bk\i) at (\x,{(\ya+\yb)/2});
  \node[callout, minimum width=\w] (co\i) at (\x+2,{(\ya+\yb)/2}) {\ph{5}{\w}{1}};
  \draw[bracket] (bk\i) -- (co\i.west);}
\end{tikzpicture}
\end{document}
